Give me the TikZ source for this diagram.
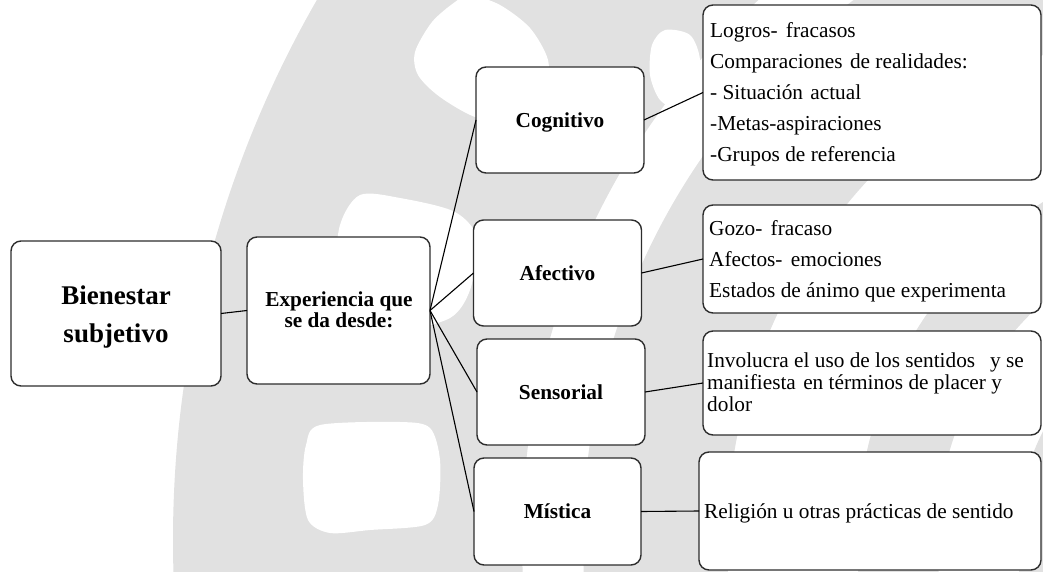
\documentclass[tikz,border=0pt]{standalone}
\usepackage{fontspec}
\setmainfont{Liberation Serif}
\definecolor{wm}{RGB}{225,225,225}
\definecolor{edge}{RGB}{45,45,45}
\begin{document}
\begin{tikzpicture}[x=1pt,y=-1pt,
  box/.style={draw=edge, line width=1.4pt, rounded corners=10pt, fill=white, inner sep=0pt, outer sep=0pt},
  link/.style={draw=black, line width=1.1pt},
  lbl/.style={inner sep=0pt, anchor=base, font=\fontsize{21.3}{24}\selectfont\bfseries},
  big/.style={inner sep=0pt, anchor=base, font=\fontsize{27}{30}\selectfont\bfseries},
  txt/.style={inner sep=0pt, anchor=base west, font=\fontsize{21.3}{24}\selectfont},
  blob/.style={fill=white}]
\useasboundingbox (0,0) rectangle (1043,572);
% watermark
\begin{scope}
\clip (0,0) rectangle (1043,572);
\fill[wm, even odd rule] (1257,540) circle[radius=1084pt] (1257,540) circle[radius=735pt];
\fill[wm, even odd rule] (1257,540) circle[radius=674pt] (1257,540) circle[radius=530pt];
\fill[wm, even odd rule] (1257,540) circle[radius=400pt] (1257,540) circle[radius=320pt];
\fill[wm] (1257,540) circle[radius=240pt];
\fill[blob] plot[smooth cycle] coordinates {(470,-5) (500,5) (530,28) (548,60) (545,90) (520,120) (478,118) (440,97) (418,75) (415,52) (432,22) (455,2)};
\fill[blob] plot[smooth cycle] coordinates {(665,30) (690,35) (700,60) (695,95) (680,110) (660,100) (650,75) (652,45)};
\fill[blob] plot[smooth cycle] coordinates {(335,280) (340,225) (360,195) (400,198) (455,212) (478,240) (470,290) (450,318) (400,330) (345,320)};
\fill[blob] plot[smooth cycle] coordinates {(320,425) (400,422) (430,428) (440,460) (438,505) (425,525) (370,530) (330,533) (308,520) (303,480) (306,445)};
\end{scope}
% boxes
\node[box, minimum width=210pt, minimum height=145pt] (bien) at (116,313.5) {};
\node[box, minimum width=183pt, minimum height=147pt] (exp) at (338.5,310.5) {};
\node[box, minimum width=168pt, minimum height=106pt] (cog) at (560,120) {};
\node[box, minimum width=168pt, minimum height=106pt] (afe) at (557.5,273) {};
\node[box, minimum width=168pt, minimum height=106pt] (sen) at (561,392) {};
\node[box, minimum width=167pt, minimum height=107pt] (mis) at (557.5,511.5) {};
\node[box, minimum width=338pt, minimum height=175pt] (r1) at (872,92.5) {};
\node[box, minimum width=338pt, minimum height=108pt] (r2) at (872,259) {};
\node[box, minimum width=338pt, minimum height=104pt] (r3) at (872,383) {};
\node[box, minimum width=342pt, minimum height=118pt] (r4) at (870,511) {};
% connectors
\draw[link] (bien.east) -- (exp.west);
\draw[link] (exp.east) -- (cog.west);
\draw[link] (exp.east) -- (afe.west);
\draw[link] (exp.east) -- (sen.west);
\draw[link] (exp.east) -- (mis.west);
\draw[link] (cog.east) -- (r1.west);
\draw[link] (afe.east) -- (r2.west);
\draw[link] (sen.east) -- (r3.west);
\draw[link] (mis.east) -- (r4.west);
% labels
\node[big] (bienA) at (116,304) {Bienestar};
\node[big] (bienB) at (116,342) {subjetivo};
\node[lbl] (expA) at (339,306) {Experiencia que};
\node[lbl] (expB) at (339,327) {se da desde:};
\node[lbl] (cogT) at (560,127.3) {Cognitivo};
\node[lbl] (afeT) at (557.5,280.3) {Afectivo};
\node[lbl] (senT) at (561,399.3) {Sensorial};
\node[lbl] (misT) at (557.5,518.8) {Mística};
% texts
\node[txt] (t11) at (710,38) {Logros-\hspace{3pt} fracasos};
\node[txt] (t12) at (710,69) {Comparaciones\hspace{2pt} de realidades:};
\node[txt] (t13) at (710,100) {- Situación\hspace{2pt} actual};
\node[txt] (t14) at (710,131) {-Metas-aspiraciones};
\node[txt] (t15) at (710,161.5) {-Grupos de referencia};
\node[txt] (t21) at (709,235.3) {Gozo-\hspace{3pt} fracaso};
\node[txt] (t22) at (709,266.3) {Afectos-\hspace{3pt} emociones};
\node[txt] (t23) at (709,297.3) {Estados de ánimo que experimenta};
\node[txt] (t31) at (707,367.5) {Involucra el uso de los sentidos\hspace{15pt}y se};
\node[txt] (t32) at (707,389.5) {manifiesta\hspace{2pt} en términos de placer y};
\node[txt] (t33) at (707,411.5) {dolor};
\node[txt] (t41) at (704,518) {Religión u otras prácticas de sentido};
\end{tikzpicture}
\end{document}
